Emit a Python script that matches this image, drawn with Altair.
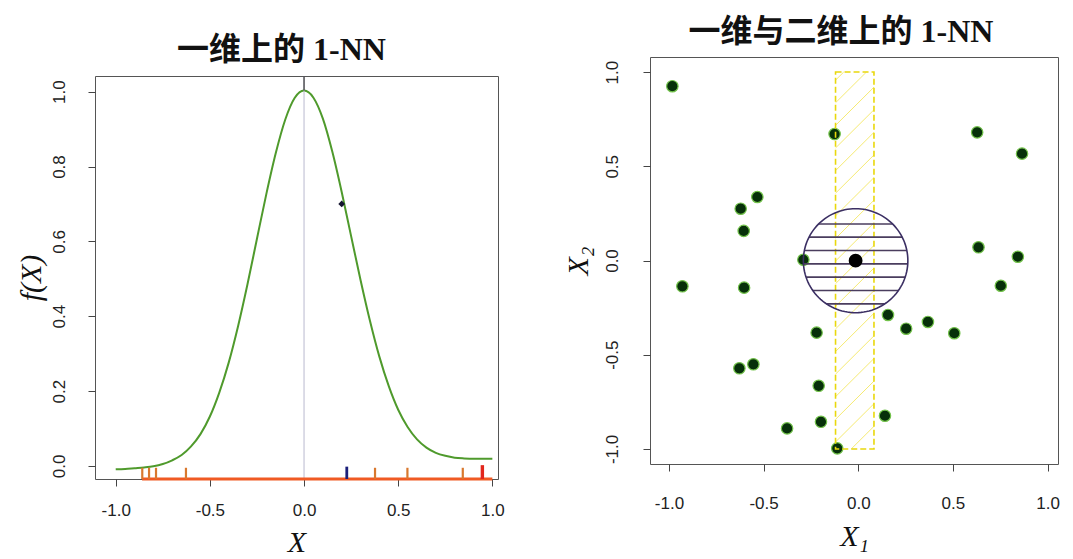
import math
import altair as alt
import pandas as pd

# ---------------- left panel : 1-D example ----------------
curve_x = [-1.00, -0.95, -0.90, -0.85, -0.80, -0.75, -0.70, -0.65, -0.60, -0.55,
           -0.50, -0.45, -0.40, -0.35, -0.30, -0.25, -0.20, -0.15, -0.10, -0.05,
           0.00, 0.05, 0.10, 0.15, 0.20, 0.25, 0.30, 0.35, 0.40, 0.45,
           0.50, 0.55, 0.60, 0.65, 0.70, 0.75, 0.80, 0.85, 0.90, 0.95, 1.00]
curve_y = [-0.009, -0.008, -0.006, -0.004, -0.001, 0.005, 0.015, 0.029, 0.052, 0.085,
           0.132, 0.196, 0.276, 0.374, 0.486, 0.607, 0.727, 0.836, 0.925, 0.983,
           1.003, 0.984, 0.928, 0.840, 0.732, 0.614, 0.497, 0.388, 0.292, 0.213,
           0.150, 0.104, 0.071, 0.049, 0.035, 0.027, 0.022, 0.020, 0.019, 0.019, 0.019]
target_1d = [0.0]
peak_1d = [1.003]
rug_orange_x = [-0.859, -0.823, -0.786, -0.627, 0.377, 0.549, 0.843]
rug_blue_x = [0.227]
rug_red_x = [0.947]
rug_line_x = [-0.86, 1.0]
nn_1d_x = [0.20]
nn_1d_y = [0.70]
left_x_ticks = [-1.0, -0.5, 0.0, 0.5, 1.0]
left_y_ticks = [0.0, 0.2, 0.4, 0.6, 0.8, 1.0]

# ---------------- right panel : 2-D example ----------------
pts_x1 = [-0.982, -0.125, 0.628, 0.865, -0.533, -0.621, -0.605, 0.635, 0.843, -0.290,
          -0.929, -0.603, 0.753, 0.157, 0.253, 0.368, 0.507, -0.220, -0.554, -0.628,
          -0.209, 0.141, -0.197, -0.376, -0.111]
pts_x2 = [0.925, 0.671, 0.680, 0.567, 0.337, 0.275, 0.157, 0.070, 0.020, 0.004,
          -0.137, -0.144, -0.134, -0.289, -0.362, -0.326, -0.386, -0.383, -0.551, -0.572,
          -0.665, -0.824, -0.856, -0.891, -0.997]
target_2d = [-0.014, -0.001]
nn_radius = 0.276
strip_x = [-0.12, 0.083]
strip_y = [-1.0, 1.0]
circle_hatch_y = [0.194, 0.124, 0.053, -0.018, -0.088, -0.159, -0.230]
right_ticks = [-1.0, -0.5, 0.0, 0.5, 1.0]

# ---------------- styles ----------------
SANS = "Liberation Sans"
SERIF = "Liberation Serif"
TITLE_FONT = "Liberation Serif, Noto Sans CJK SC"
LABEL_EXPR = "replace(format(datum.value, '.1f'), '\u2212', '-')"
GREEN = "#4f9a2c"
ORANGE = "#d9782e"
RED = "#e2261c"
BLUE = "#1b1f7a"
BOX = "#555555"

XL_DOM = [-1.11, 1.03]
YL_DOM = [-0.035, 1.042]
XR_DOM = [-1.10, 1.055]
YR_DOM = [-1.08, 1.08]
RUG_BASE = YL_DOM[0]


def x_axis(title, values, label_pad, title_pad):
    return alt.Axis(values=values, labelExpr=LABEL_EXPR, title=title, grid=False,
                    domain=False, ticks=True, tickSize=7, tickColor="#444", tickWidth=1,
                    labelFont=SANS, labelFontSize=17, labelColor="#222",
                    labelPadding=label_pad, labelFlush=False,
                    titleFont=SERIF, titleFontSize=30, titleFontStyle="italic",
                    titleFontWeight="normal", titleColor="#111", titlePadding=title_pad)


def y_axis(title, values, label_pad, title_pad):
    return alt.Axis(values=values, labelExpr=LABEL_EXPR, title=title, grid=False,
                    domain=False, ticks=True, tickSize=7, tickColor="#444", tickWidth=1,
                    labelFont=SANS, labelFontSize=17, labelColor="#222",
                    labelAngle=270, labelAlign="center", labelBaseline="bottom",
                    labelPadding=label_pad, labelFlush=False,
                    titleFont=SERIF, titleFontSize=30, titleFontStyle="italic",
                    titleFontWeight="normal", titleColor="#111", titlePadding=title_pad)


def spacer(h):
    return alt.Chart(pd.DataFrame({"s": [0]})).mark_point(opacity=0, size=1).encode(
        x=alt.X("s:Q", axis=None), y=alt.Y("s:Q", axis=None)
    ).properties(width=10, height=h, view=alt.ViewBackground(stroke="transparent"))


xl = alt.Scale(domain=XL_DOM, nice=False, zero=False)
yl = alt.Scale(domain=YL_DOM, nice=False, zero=False)

curve_df = pd.DataFrame({"x": curve_x, "y": curve_y})
curve = alt.Chart(curve_df).mark_line(color=GREEN, strokeWidth=2, interpolate="monotone").encode(
    x=alt.X("x:Q", scale=xl, axis=x_axis("X", left_x_ticks, 16, 9)),
    y=alt.Y("y:Q", scale=yl, axis=y_axis("f(X)", left_y_ticks, 20, 4)),
)

vline = alt.Chart(pd.DataFrame({"x": target_1d, "y": [YL_DOM[0]], "y2": [YL_DOM[1]]})).mark_rule(
    color="#b9b9cf", strokeWidth=1).encode(x="x:Q", y="y:Q", y2="y2:Q")
vtop = alt.Chart(pd.DataFrame({"x": target_1d, "y": peak_1d, "y2": [YL_DOM[1]]})).mark_rule(
    color="#333", strokeWidth=1.2).encode(x="x:Q", y="y:Q", y2="y2:Q")

rug_line = alt.Chart(pd.DataFrame({"x": [rug_line_x[0]], "x2": [rug_line_x[1]],
                                   "y": [RUG_BASE]})).mark_rule(
    color="#f05a23", strokeWidth=3).encode(x="x:Q", x2="x2:Q", y="y:Q")

rug_o = alt.Chart(pd.DataFrame({"x": rug_orange_x, "y": [RUG_BASE] * len(rug_orange_x),
                                "y2": [-0.005] * len(rug_orange_x)})).mark_rule(
    color=ORANGE, strokeWidth=2.2).encode(x="x:Q", y="y:Q", y2="y2:Q")
rug_b = alt.Chart(pd.DataFrame({"x": rug_blue_x, "y": [RUG_BASE], "y2": [-0.002]})).mark_rule(
    color=BLUE, strokeWidth=2.8).encode(x="x:Q", y="y:Q", y2="y2:Q")
rug_r = alt.Chart(pd.DataFrame({"x": rug_red_x, "y": [RUG_BASE], "y2": [0.002]})).mark_rule(
    color=RED, strokeWidth=3.4).encode(x="x:Q", y="y:Q", y2="y2:Q")

nn_pt = alt.Chart(pd.DataFrame({"x": nn_1d_x, "y": nn_1d_y})).mark_point(
    shape="diamond", filled=True, color="#151530", size=45, opacity=1).encode(x="x:Q", y="y:Q")

left = alt.layer(curve, vline, vtop, rug_line, rug_o, rug_b, rug_r, nn_pt).properties(
    width=403, height=403,
    title=alt.TitleParams(text="一维上的 1-NN", font=TITLE_FONT, fontSize=32,
                          fontWeight="bold", color="#111", offset=8, dx=-15, anchor="middle"),
)

# ---------------- right panel ----------------
xr = alt.Scale(domain=XR_DOM, nice=False, zero=False)
yr = alt.Scale(domain=YR_DOM, nice=False, zero=False)

# diagonal hatch inside the 1-D strip
hatch_rows = []
step = 0.12
c = strip_y[0] - strip_x[1]
while c < strip_y[1] - strip_x[0]:
    lo = max(strip_x[0], strip_y[0] - c)
    hi = min(strip_x[1], strip_y[1] - c)
    if lo < hi:
        hatch_rows.append({"x": lo, "y": lo + c, "x2": hi, "y2": hi + c})
    c += step
hatch = alt.Chart(pd.DataFrame(hatch_rows)).mark_rule(
    color="#f3e65a", strokeWidth=1, opacity=0.85).encode(x="x:Q", y="y:Q", x2="x2:Q", y2="y2:Q")

strip = alt.Chart(pd.DataFrame({"x": [strip_x[0]], "x2": [strip_x[1]],
                                "y": [strip_y[0]], "y2": [strip_y[1]]})).mark_rect(
    fillOpacity=0, stroke="#e9d80c", strokeWidth=1.6, strokeDash=[6, 3]).encode(
    x="x:Q", x2="x2:Q", y="y:Q", y2="y2:Q")

chord_rows = []
for hy in circle_hatch_y:
    dy = hy - target_2d[1]
    half = math.sqrt(max(nn_radius ** 2 - dy ** 2, 0.0))
    chord_rows.append({"x": target_2d[0] - half, "x2": target_2d[0] + half, "y": hy})
chords = alt.Chart(pd.DataFrame(chord_rows)).mark_rule(
    color="#4a3d5e", strokeWidth=1.6).encode(x="x:Q", x2="x2:Q", y="y:Q")

circ_rows = []
for k in range(0, 121):
    a = 2 * math.pi * k / 120
    circ_rows.append({"x": target_2d[0] + nn_radius * math.cos(a),
                      "y": target_2d[1] + nn_radius * math.sin(a), "o": k})
circle = alt.Chart(pd.DataFrame(circ_rows)).mark_line(
    color="#3b2f63", strokeWidth=1.6).encode(x="x:Q", y="y:Q", order="o:Q")

pts = alt.Chart(pd.DataFrame({"x": pts_x1, "y": pts_x2})).mark_point(
    filled=True, fill="#07300a", stroke="#72c24a", strokeWidth=1.2, size=130, opacity=1).encode(
    x=alt.X("x:Q", scale=xr, axis=x_axis("X\u2081", right_ticks, 24, 10)),
    y=alt.Y("y:Q", scale=yr, axis=y_axis("X\u2082", right_ticks, 22, 10)),
)
tgt = alt.Chart(pd.DataFrame({"x": [target_2d[0]], "y": [target_2d[1]]})).mark_point(
    filled=True, fill="#000000", stroke="#000000", size=140, opacity=1).encode(x="x:Q", y="y:Q")

right = alt.layer(pts, hatch, strip, chords, circle, tgt).properties(
    width=408, height=407,
    title=alt.TitleParams(text="一维与二维上的 1-NN", font=TITLE_FONT, fontSize=32,
                          fontWeight="bold", color="#111", offset=8, dx=-13, anchor="middle"),
)

left_col = alt.vconcat(spacer(19), left, spacing=0)
right_col = alt.vconcat(spacer(1), right, spacing=0)

chart = alt.hconcat(left_col, right_col, spacing=57).properties(
    padding={"left": 15, "top": 12, "right": 5, "bottom": 5},
    background="white",
).configure_view(stroke=BOX, strokeWidth=1)

chart.save("out.html", embed_options={"renderer": "svg", "actions": False})
